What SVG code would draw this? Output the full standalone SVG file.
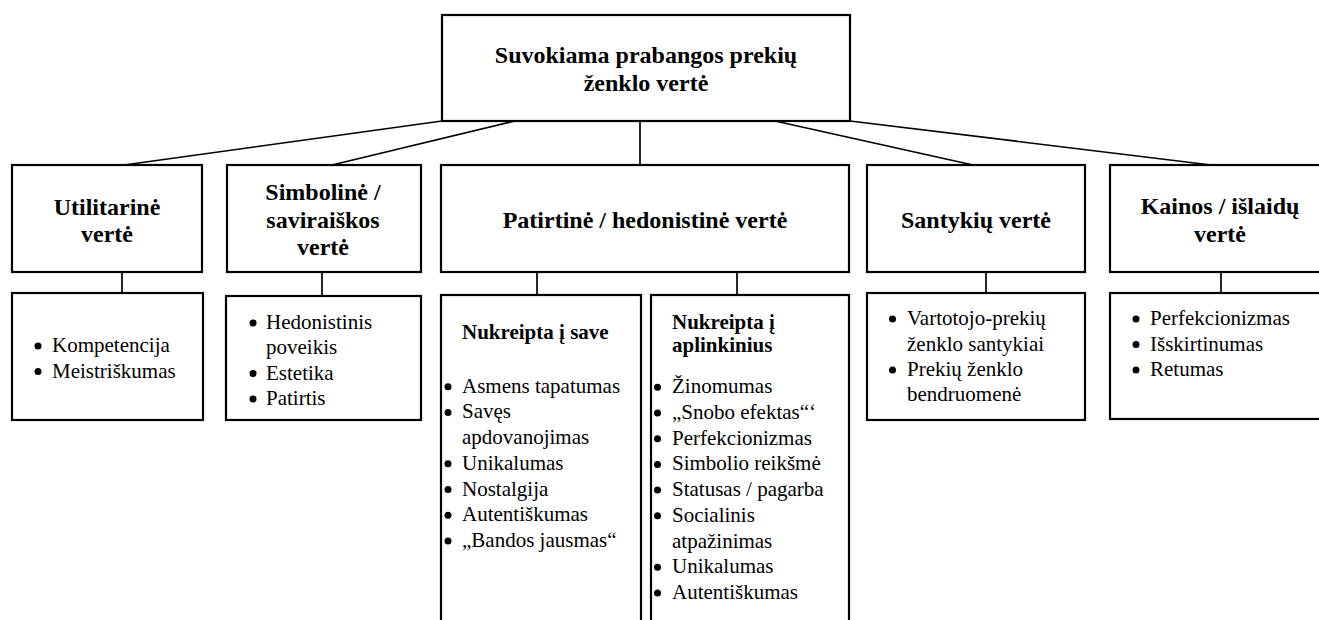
<svg xmlns="http://www.w3.org/2000/svg" width="1319" height="620" viewBox="0 0 1319 620">
  <style>
    .box { fill: #ffffff; stroke: #000000; stroke-width: 2.2; }
    .link { fill: none; stroke: #000000; stroke-width: 1.7; }
    text { font-family: 'Liberation Serif', 'DejaVu Serif', serif; fill: #000000; }
    .head { font-weight: bold; font-size: 24px; text-anchor: middle; }
    .sub { font-weight: bold; font-size: 21px; }
    .item { font-size: 21px; }
    .dot { fill: #000000; }
  </style>

  <!-- connectors -->
  <g id="connectors">
    <path class="link" d="M442,121 L124,165"/>
    <path class="link" d="M515,121 L332,165"/>
    <path class="link" d="M640,121 L640,165"/>
    <path class="link" d="M775,121 L973,165"/>
    <path class="link" d="M850,121 L1211,165"/>
    <path class="link" d="M122,272 L122,293"/>
    <path class="link" d="M322,272 L322,296"/>
    <path class="link" d="M537,272 L537,295"/>
    <path class="link" d="M737,272 L737,295"/>
    <path class="link" d="M986,272 L986,293"/>
    <path class="link" d="M1221,272 L1221,293"/>
  </g>

  <g font-family="Liberation Serif, DejaVu Serif, serif">
  <!-- root -->
  <g id="root">
    <rect class="box" x="442" y="15" width="408" height="106"/>
    <text class="head" x="646" y="63">Suvokiama prabangos prekių</text>
    <text class="head" x="646" y="91">ženklo vertė</text>
  </g>

  <!-- value categories -->
  <g id="utilitarine">
    <rect class="box" x="12" y="165" width="190" height="107"/>
    <text class="head" x="107" y="215">Utilitarinė</text>
    <text class="head" x="107" y="242">vertė</text>
  </g>
  <g id="simboline">
    <rect class="box" x="227" y="165" width="194" height="107"/>
    <text class="head" x="323" y="200">Simbolinė /</text>
    <text class="head" x="323" y="227.5">saviraiškos</text>
    <text class="head" x="323" y="254.5">vertė</text>
  </g>
  <g id="patirtine">
    <rect class="box" x="441" y="165" width="408" height="107"/>
    <text class="head" x="645" y="228">Patirtinė / hedonistinė vertė</text>
  </g>
  <g id="santykiu">
    <rect class="box" x="867" y="165" width="218" height="107"/>
    <text class="head" x="976" y="228">Santykių vertė</text>
  </g>
  <g id="kainos">
    <rect class="box" x="1110" y="165" width="215" height="107"/>
    <text class="head" x="1220" y="214">Kainos / išlaidų</text>
    <text class="head" x="1220" y="242">vertė</text>
  </g>

  <!-- detail lists -->
  <g id="utilitarine-items">
    <rect class="box" x="12" y="293" width="191" height="127"/>
    <circle class="dot" cx="38" cy="346" r="3.5"/>
    <circle class="dot" cx="38" cy="371.5" r="3.5"/>
    <text class="item" x="52" y="352">Kompetencija</text>
    <text class="item" x="52" y="377.5">Meistriškumas</text>
  </g>

  <g id="simboline-items">
    <rect class="box" x="226" y="296" width="195" height="124"/>
    <circle class="dot" cx="253" cy="323" r="3.5"/>
    <circle class="dot" cx="253" cy="373.5" r="3.5"/>
    <circle class="dot" cx="253" cy="399" r="3.5"/>
    <text class="item" x="266" y="329">Hedonistinis</text>
    <text class="item" x="266" y="354">poveikis</text>
    <text class="item" x="266" y="379.5">Estetika</text>
    <text class="item" x="266" y="405">Patirtis</text>
  </g>

  <g id="nukreipta-save">
    <rect class="box" x="441" y="295" width="200" height="340"/>
    <text class="sub" x="462" y="339">Nukreipta į save</text>
    <circle class="dot" cx="448" cy="386.7" r="3.5"/>
    <circle class="dot" cx="448" cy="412.4" r="3.5"/>
    <circle class="dot" cx="448" cy="463.8" r="3.5"/>
    <circle class="dot" cx="448" cy="489.5" r="3.5"/>
    <circle class="dot" cx="448" cy="515.2" r="3.5"/>
    <circle class="dot" cx="448" cy="540.9" r="3.5"/>
    <text class="item" x="462" y="392.7">Asmens tapatumas</text>
    <text class="item" x="462" y="418.4">Savęs</text>
    <text class="item" x="462" y="444.1">apdovanojimas</text>
    <text class="item" x="462" y="469.8">Unikalumas</text>
    <text class="item" x="462" y="495.5">Nostalgija</text>
    <text class="item" x="462" y="521.2">Autentiškumas</text>
    <text class="item" x="462" y="546.9">„Bandos jausmas“</text>
  </g>

  <g id="nukreipta-aplinkinius">
    <rect class="box" x="651" y="295" width="198" height="340"/>
    <text class="sub" x="672" y="328.5">Nukreipta į</text>
    <text class="sub" x="672" y="352">aplinkinius</text>
    <circle class="dot" cx="657.5" cy="387.3" r="3.5"/>
    <circle class="dot" cx="657.5" cy="413" r="3.5"/>
    <circle class="dot" cx="657.5" cy="438.7" r="3.5"/>
    <circle class="dot" cx="657.5" cy="464.4" r="3.5"/>
    <circle class="dot" cx="657.5" cy="490.1" r="3.5"/>
    <circle class="dot" cx="657.5" cy="515.8" r="3.5"/>
    <circle class="dot" cx="657.5" cy="567.2" r="3.5"/>
    <circle class="dot" cx="657.5" cy="592.9" r="3.5"/>
    <text class="item" x="672" y="393.3">Žinomumas</text>
    <text class="item" x="672" y="419">„Snobo efektas“‘</text>
    <text class="item" x="672" y="444.7">Perfekcionizmas</text>
    <text class="item" x="672" y="470.4">Simbolio reikšmė</text>
    <text class="item" x="672" y="496.1">Statusas / pagarba</text>
    <text class="item" x="672" y="521.8">Socialinis</text>
    <text class="item" x="672" y="547.5">atpažinimas</text>
    <text class="item" x="672" y="573.2">Unikalumas</text>
    <text class="item" x="672" y="598.9">Autentiškumas</text>
  </g>

  <g id="santykiu-items">
    <rect class="box" x="867" y="293" width="218" height="127"/>
    <circle class="dot" cx="892.5" cy="319" r="3.5"/>
    <circle class="dot" cx="892.5" cy="370" r="3.5"/>
    <text class="item" x="907" y="325">Vartotojo-prekių</text>
    <text class="item" x="907" y="350.5">ženklo santykiai</text>
    <text class="item" x="907" y="376">Prekių ženklo</text>
    <text class="item" x="907" y="401">bendruomenė</text>
  </g>

  <g id="kainos-items">
    <rect class="box" x="1110" y="293" width="215" height="126"/>
    <circle class="dot" cx="1136" cy="319" r="3.5"/>
    <circle class="dot" cx="1136" cy="344.5" r="3.5"/>
    <circle class="dot" cx="1136" cy="370" r="3.5"/>
    <text class="item" x="1150" y="325">Perfekcionizmas</text>
    <text class="item" x="1150" y="350.5">Išskirtinumas</text>
    <text class="item" x="1150" y="376">Retumas</text>
  </g>
  </g>
</svg>
